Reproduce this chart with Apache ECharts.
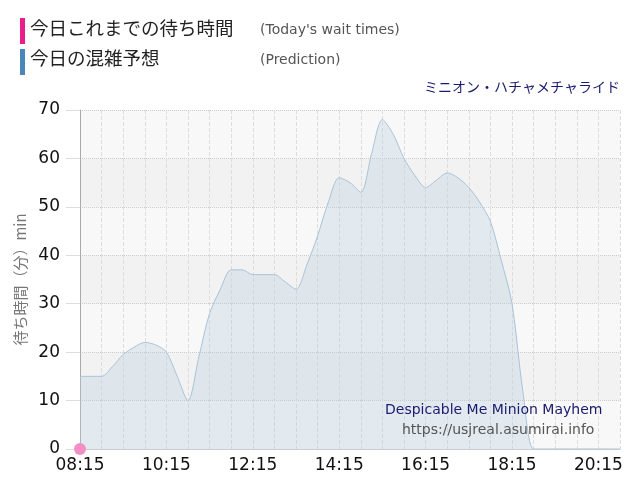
<!DOCTYPE html>
<html><head><meta charset="utf-8">
<script src="https://cdn.jsdelivr.net/npm/echarts@6/dist/echarts.min.js"></script>
<style>body{margin:0}#c{width:640px;height:500px}</style>
</head><body><div id="c"></div>
<script>
var times = [];
for (var m = 8 * 60 + 15; m <= 20 * 60 + 45; m += 15) {
	times.push(('0' + Math.floor(m / 60)).slice(-2) + ':' + ('0' + m % 60).slice(-2))
}
var prediction = [15, 15, 15, 17, 19.5, 21, 22, 21.5, 20, 15, 10, 19, 28, 33, 37, 37, 36, 36, 36, 34.5,
	33, 38, 44, 51, 56, 55, 53, 61, 68, 65, 60, 56.5, 54, 55.5, 57, 56, 54, 51, 47, 39,
	30, 12, 0, 0, 0, 0, 0, 0, 0, 0, 0];
var today = [0];

var chart = echarts.init(document.getElementById('c'));
var font = '"Noto Sans CJK JP", sans-serif';
option = {
	animation: false,
	graphic: [
		{type: 'rect', left: 20, top: 18, shape: {width: 5, height: 26}, style: {fill: '#e91e8c'}},
		{type: 'text', left: 30, top: 19, style: {text: '今日これまでの待ち時間', fontSize: 18.5, fill: '#222', fontFamily: font}},
		{type: 'text', left: 260, top: 23, style: {text: "(Today's wait times)", fontSize: 14, fill: '#555', fontFamily: 'DejaVu Sans'}},
		{type: 'rect', left: 20, top: 49, shape: {width: 5, height: 26}, style: {fill: '#4a86b8'}},
		{type: 'text', left: 30, top: 49, style: {text: '今日の混雑予想', fontSize: 18.5, fill: '#222', fontFamily: font}},
		{type: 'text', left: 260, top: 53, style: {text: '(Prediction)', fontSize: 14, fill: '#555', fontFamily: 'DejaVu Sans'}},
		{type: 'text', right: 20, top: 80, style: {text: 'ミニオン・ハチャメチャライド', fontSize: 14, fill: '#1a1a6e', fontFamily: font}},
		{type: 'text', left: 385, top: 403, z: 100, style: {text: 'Despicable Me Minion Mayhem', fontSize: 14, fill: '#1a1a6e', fontFamily: 'DejaVu Sans'}},
		{type: 'text', left: 402, top: 423, z: 100, style: {text: 'https://usjreal.asumirai.info', fontSize: 14, fill: '#555', fontFamily: 'DejaVu Sans'}}
	],
	grid: {left: 80, right: 20, top: 110, bottom: 51},
	xAxis: {
		type: 'category',
		boundaryGap: false,
		data: times,
		axisTick: {show: false},
		axisLine: {lineStyle: {color: '#ccc'}},
		axisLabel: {interval: 7, color: '#111', fontSize: 17, fontFamily: 'DejaVu Sans', margin: 8},
		splitLine: {show: true, interval: function (i) { return i % 2 === 0 && i > 0; }, lineStyle: {color: '#ddd', type: 'dashed'}}
	},
	yAxis: {
		type: 'value',
		min: 0, max: 70, interval: 10,
		name: '待ち時間（分）min',
		nameLocation: 'middle',
		nameGap: 50,
		nameTextStyle: {color: '#777', fontSize: 15, fontFamily: font},
		axisLine: {show: true, lineStyle: {color: '#aaa'}},
		axisTick: {show: true, length: 14, inside: false, lineStyle: {color: '#ddd'}},
		axisLabel: {color: '#111', fontSize: 17, fontFamily: 'DejaVu Sans', margin: 20},
		splitLine: {lineStyle: {color: '#ccc', type: 'dotted'}},
		splitArea: {show: true, areaStyle: {color: ['#f8f8f8', '#f2f2f2']}}
	},
	series: [
		{
			name: 'Prediction', type: 'line', smooth: 0.3, symbol: 'none', data: prediction,
			lineStyle: {color: '#a9c2d6', width: 1},
			areaStyle: {color: 'rgba(180,204,222,0.45)'}
		},
		{
			name: 'Today', type: 'line', data: today, symbol: 'circle', symbolSize: 12,
			itemStyle: {color: '#f38fc4'}, lineStyle: {color: '#e91e8c'}, z: 5
		}
	]
};
chart.setOption(option);
</script>
</body></html>
